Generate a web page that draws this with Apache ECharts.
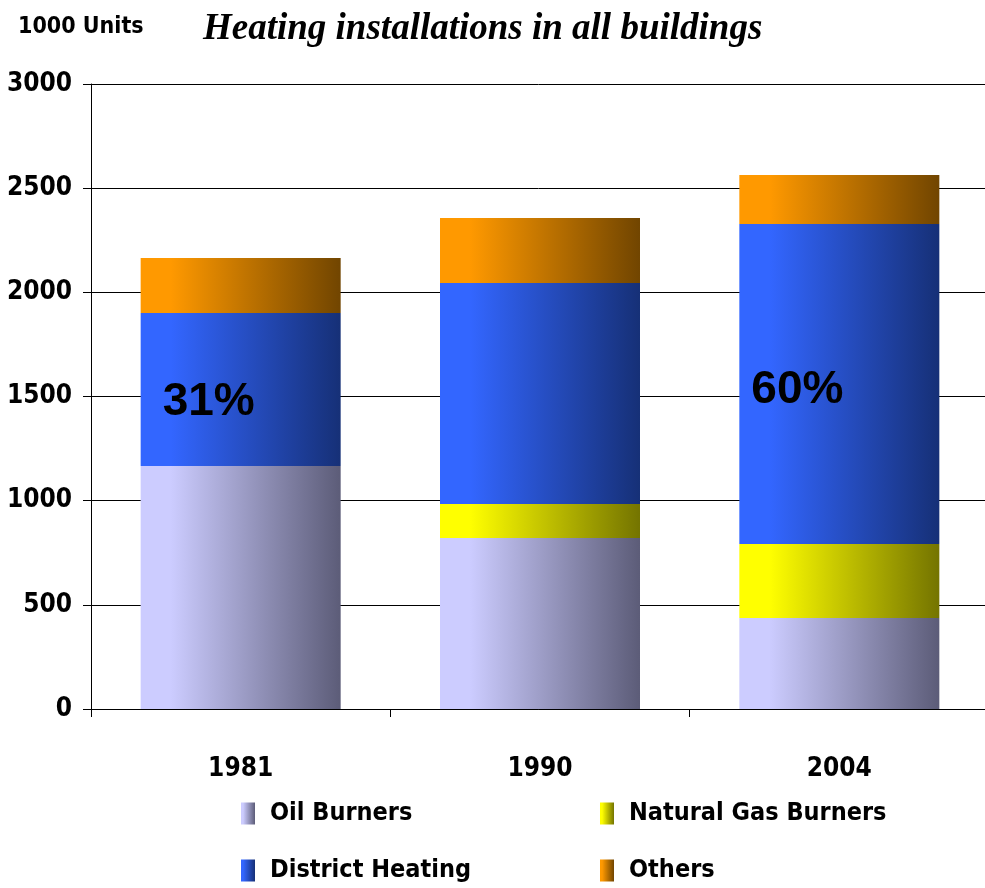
<!DOCTYPE html>
<html>
<head>
<meta charset="utf-8">
<script src="https://cdn.jsdelivr.net/npm/echarts@6/dist/echarts.min.js"></script>
<style>
  html, body { margin: 0; padding: 0; background: #fff; }
  #chart { width: 985px; height: 888px; }
</style>
</head>
<body>
<div id="chart"></div>
<script>
// data (1000 units)
var years = ['1981', '1990', '2004'];
var oilBurners = [1166, 821, 437];
var gasBurners = [0, 163, 355];
var districtHeating = [735, 1061, 1536];
var others = [264, 312, 235];
var districtShare = ['31%', '', '60%'];

var narrow = '"DejaVu Sans Condensed", "Liberation Sans Narrow", "Arial Narrow", sans-serif';

function grad(from, to) {
    return new echarts.graphic.LinearGradient(0, 0, 1, 0, [
        { offset: 0, color: from },
        { offset: 0.15, color: from },
        { offset: 1, color: to }
    ]);
}

var chart = echarts.init(document.getElementById('chart'));

// percent labels sit inside the district heating segments
var labelPos = [[22, 89], null, [12, 166]];
var districtData = districtHeating.map(function (v, i) {
    if (!districtShare[i]) return v;
    return {
        value: v,
        label: {
            show: true,
            formatter: districtShare[i],
            position: labelPos[i],
            color: '#000',
            fontSize: 46,
            fontWeight: 'bold',
            fontFamily: 'Liberation Sans, Arial, sans-serif',
            verticalAlign: 'middle'
        }
    };
});

function barSeries(name, data, color) {
    return {
        name: name,
        type: 'bar',
        stack: 'all',
        barWidth: 200,
        data: data,
        itemStyle: { color: color },
        emphasis: { disabled: true }
    };
}

var legendText = { fontSize: 25, fontWeight: 'bold', color: '#000', fontFamily: narrow, padding: [0, 0, 0, 10] };

function legendItem(name, left, top) {
    return {
        left: left,
        top: top,
        itemWidth: 14,
        itemHeight: 22,
        icon: 'rect',
        data: [name],
        textStyle: legendText
    };
}

chart.setOption({
    animation: false,
    backgroundColor: '#fff',
    title: [{
        text: '1000 Units',
        left: 13,
        top: 11,
        textStyle: { fontSize: 23, fontWeight: 'bold', color: '#000', fontFamily: narrow }
    }, {
        text: 'Heating installations in all buildings',
        left: 198,
        top: 6,
        textStyle: {
            fontSize: 37, fontWeight: 'bold', fontStyle: 'italic', color: '#000',
            fontFamily: '"Liberation Serif", "Times New Roman", serif'
        }
    }],
    legend: [
        legendItem('Oil Burners', 236, 796),
        legendItem('Natural Gas Burners', 595, 796),
        legendItem('District Heating', 236, 853),
        legendItem('Others', 595, 853)
    ],
    grid: { left: 91, width: 898, top: 84, bottom: 179, outerBoundsMode: 'none' },
    xAxis: {
        type: 'category',
        data: years,
        axisLine: { lineStyle: { color: '#000', width: 1 } },
        axisTick: { show: true, length: 8, lineStyle: { color: '#000' } },
        axisLabel: { margin: 47, fontSize: 26, fontWeight: 'bold', color: '#000', fontFamily: narrow }
    },
    yAxis: {
        type: 'value',
        min: 0,
        max: 3000,
        interval: 500,
        axisLine: { show: true, lineStyle: { color: '#000' } },
        axisTick: { show: true, length: 8, lineStyle: { color: '#000' } },
        splitLine: { lineStyle: { color: '#000', width: 1 } },
        axisLabel: {
            margin: 19, fontSize: 26, fontWeight: 'bold', color: '#000', fontFamily: narrow,
            formatter: function (v) { return String(v); }
        }
    },
    series: [
        barSeries('Oil Burners', oilBurners, grad('#CCCCFF', '#5C5C78')),
        barSeries('Natural Gas Burners', gasBurners, grad('#FFFF00', '#747400')),
        barSeries('District Heating', districtData, grad('#3366FF', '#163077')),
        barSeries('Others', others, grad('#FF9900', '#714500'))
    ]
});
</script>
</body>
</html>
